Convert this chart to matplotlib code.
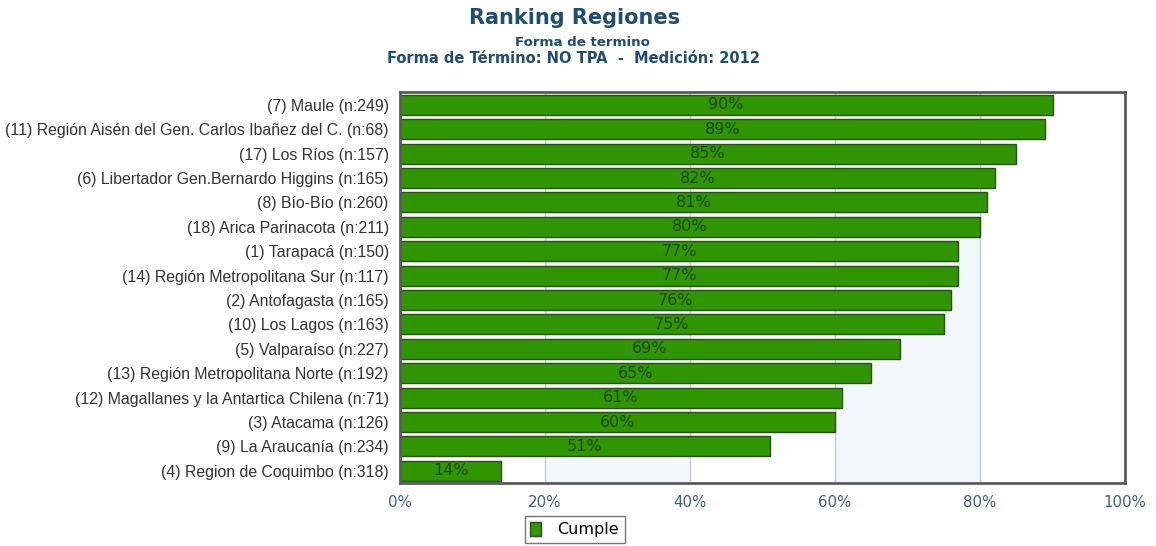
import matplotlib.pyplot as plt
from matplotlib.patches import Patch

regiones = [
    '(7) Maule (n:249)',
    '(11) Región Aisén del Gen. Carlos Ibañez del C. (n:68)',
    '(17) Los Ríos (n:157)',
    '(6) Libertador Gen.Bernardo Higgins (n:165)',
    '(8) Bío-Bío (n:260)',
    '(18) Arica Parinacota (n:211)',
    '(1) Tarapacá (n:150)',
    '(14) Región Metropolitana Sur (n:117)',
    '(2) Antofagasta (n:165)',
    '(10) Los Lagos (n:163)',
    '(5) Valparaíso (n:227)',
    '(13) Región Metropolitana Norte (n:192)',
    '(12) Magallanes y la Antartica Chilena (n:71)',
    '(3) Atacama (n:126)',
    '(9) La Araucanía (n:234)',
    '(4) Region de Coquimbo (n:318)',
]
cumple = [90, 89, 85, 82, 81, 80, 77, 77, 76, 75, 69, 65, 61, 60, 51, 14]
xticks = [0, 20, 40, 60, 80, 100]

verde = '#2f9600'
borde = '#2b4f14'

fig = plt.figure(figsize=(11.56, 5.46), dpi=100)
ax = fig.add_axes([0.346, 0.1154, 0.6272, 0.7161])

# franjas de fondo alternadas
for i in range(len(xticks) - 1):
    if i % 2 == 1:
        ax.axvspan(xticks[i], xticks[i + 1], color='#f3f7fc', zorder=0)
for x in xticks[1:-1]:
    ax.axvline(x, color='#c8ccd2', lw=1, zorder=1)

y = list(range(len(regiones)))
ax.barh(y, cumple, height=0.82, color=verde, edgecolor=borde, linewidth=1, zorder=2)
for yi, v in zip(y, cumple):
    ax.text(v / 2, yi, f'{v}%', ha='center', va='center', fontsize=11.5,
            color='#1c480e', zorder=3)

ax.set_xlim(0, 100)
ax.set_ylim(len(regiones) - 0.5, -0.53)
ax.set_yticks(y)
ax.set_yticklabels(regiones, fontsize=11.4, family='Liberation Sans', color='#333333')
ax.set_xticks(xticks)
ax.set_xticklabels([f'{t}%' for t in xticks], fontsize=10.8, color='#3d6080')
ax.tick_params(axis='both', length=0)
ax.tick_params(axis='y', pad=8)
ax.tick_params(axis='x', pad=9)
for s in ax.spines.values():
    s.set_color('#5a5a5a')
    s.set_linewidth(2)

fig.text(0.497, 0.967, 'Ranking Regiones', ha='center', va='center',
         fontsize=15, fontweight='bold', color='#1f4e72')
fig.text(0.504, 0.923, 'Forma de termino', ha='center', va='center',
         fontsize=9.6, fontweight='bold', color='#1f4e72')
fig.text(0.496, 0.892, 'Forma de Término: NO TPA  -  Medición: 2012', ha='center',
         va='center', fontsize=10.5, fontweight='bold', color='#1f4e72')

leg = fig.legend(handles=[Patch(facecolor=verde, edgecolor=borde)], labels=['Cumple'],
                 loc='center', bbox_to_anchor=(0.497, 0.03), fontsize=11.5,
                 fancybox=False, edgecolor='#555555', handlelength=0.7,
                 handleheight=1.0, handletextpad=1.0, borderpad=0.35)
leg.get_frame().set_linewidth(1)

fig.savefig('out.png', dpi=100)
